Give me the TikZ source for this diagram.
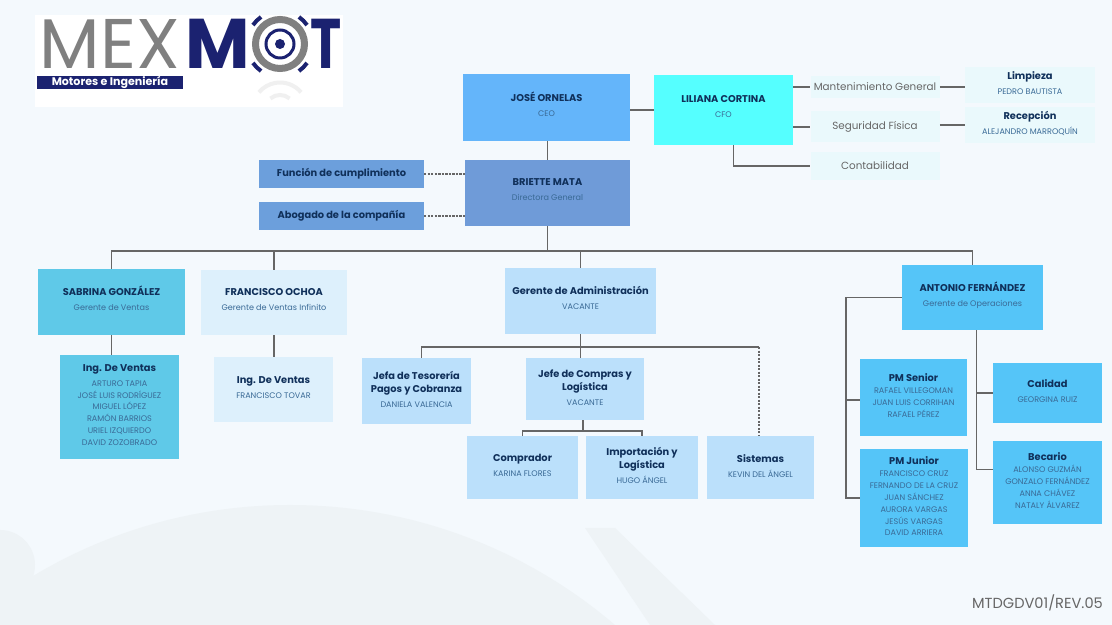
\documentclass[tikz,border=0pt]{standalone}
\usepackage{fontspec}
\setmainfont{Poppins}
\usepackage{tikz}
\definecolor{pagebg}{HTML}{F4F9FD}
\definecolor{markgrey}{HTML}{EEF3F6}
\definecolor{linegrey}{HTML}{666666}
\definecolor{navy}{HTML}{1B2270}
\definecolor{inktitle}{HTML}{10305A}
\definecolor{inksub}{HTML}{3A6A96}
\definecolor{pale}{HTML}{EAF9FC}
\tikzset{
	orgbox/.style={inner sep=0pt, align=center, text=inktitle, font=\fontsize{5.6}{7.4}\selectfont\bfseries},
	softbox/.style={inner sep=0pt, align=center, text=linegrey, font=\fontsize{5.9}{7}\selectfont, fill=pale},
	orgline/.style={draw=linegrey, line width=.6pt},
	dashline/.style={orgline, dash pattern=on 1.2pt off .8pt}
}
\newcommand{\sub}[1]{\\[1pt]{\fontsize{4.6}{6.8}\selectfont\mdseries\color{inksub}\begin{tabular}{@{}c@{}}#1\end{tabular}}}
\newcommand{\pad}{\\[-3.5pt]\mbox{}}
\begin{document}
\begin{tikzpicture}
	\useasboundingbox (0, 0) rectangle (22.24, 12.5);
	\fill[pagebg] (0, 0) rectangle (22.24, 12.5);

	% watermark
	\begin{scope}
		\clip (0, 0) rectangle (22.24, 2.6);
		\fill[markgrey] (5.8, -7.6) circle (10cm);
		\fill[markgrey] (0, 1.2) circle (.7cm);
		\fill[markgrey] (11.7, 1.94) -- (12.3, 1.94) -- (14.3, 0) -- (13, 0) -- cycle;
	\end{scope}

	% logo
	\fill[white] (.7, 10.35) rectangle (6.85, 12.2);
	\node[inner sep=0pt, text=gray, font=\fontsize{40}{40}\selectfont] (mex) at (2.2, 11.62) {MEX};
	\node[inner sep=0pt, text=navy, font=\fontsize{40}{40}\selectfont\bfseries] (logom) at (4.36, 11.62) {M};
	\node[inner sep=0pt, text=navy, font=\fontsize{40}{40}\selectfont\bfseries] (logot) at (6.53, 11.62) {\scalebox{.75}[1]{T}};
	\draw[gray, line width=.14cm] (5.6, 11.62) circle (.49cm);
	\draw[navy, line width=.06cm] (5.6, 11.62) circle (.28cm);
	\fill[navy] (5.6, 11.62) circle (.1cm);
	\foreach \a in {45, 135, 225, 315} {
		\draw[navy, line width=.08cm] (5.6, 11.62) ++(\a-10:.66) arc (\a-10:\a+10:.66);
	}
	\draw[gray!12, line width=.08cm] (5.6, 10.3) ++(40:.55) arc (40:140:.55);
	\draw[gray!12, line width=.08cm] (5.6, 10.3) ++(50:.3) arc (50:130:.3);
	\node[fill=navy, text=white, inner sep=0pt, minimum width=2.92cm, minimum height=.26cm, font=\fontsize{6.3}{6.3}\selectfont\bfseries] (strip) at (2.2, 10.85) {Motores e Ingeniería};

	% direccion
	\node[orgbox, fill={rgb,255:red,100;green,181;blue,250}, minimum width=3.34cm, minimum height=1.34cm] (jose) at (10.93, 10.35) {JOSÉ ORNELAS\sub{CEO}\pad};
	\node[orgbox, fill={rgb,255:red,85;green,255;blue,255}, minimum width=2.78cm, minimum height=1.4cm] (liliana) at (14.47, 10.3) {LILIANA CORTINA\sub{CFO}\pad};
	\node[orgbox, fill={rgb,255:red,111;green,155;blue,216}, minimum width=3.3cm, minimum height=1.32cm] (briete) at (10.95, 8.64) {BRIETTE MATA\sub{Directora General}\pad};
	\node[orgbox, fill={rgb,255:red,108;green,159;blue,220}, minimum width=3.3cm, minimum height=.56cm] (funcion) at (6.83, 9.02) {Función de cumplimiento};
	\node[orgbox, fill={rgb,255:red,108;green,159;blue,220}, minimum width=3.3cm, minimum height=.56cm] (abogado) at (6.83, 8.18) {Abogado de la compañía};

	\node[softbox, minimum width=2.58cm, minimum height=.44cm] (mant) at (17.5, 10.76) {Mantenimiento General};
	\node[softbox, minimum width=2.58cm, minimum height=.62cm] (seg) at (17.5, 9.96) {Seguridad Física};
	\node[softbox, minimum width=2.58cm, minimum height=.56cm] (cont) at (17.5, 9.18) {Contabilidad};
	\node[orgbox, fill=pale, minimum width=2.6cm, minimum height=.72cm] (limp) at (20.6, 10.8) {Limpieza\sub{PEDRO BAUTISTA}};
	\node[orgbox, fill=pale, minimum width=2.6cm, minimum height=.72cm] (recep) at (20.6, 10.0) {Recepción\sub{ALEJANDRO MARROQUÍN}};

	% gerencias
	\node[orgbox, fill={rgb,255:red,95;green,201;blue,232}, minimum width=2.94cm, minimum height=1.32cm] (sabrina) at (2.23, 6.46) {SABRINA GONZÁLEZ\sub{Gerente de Ventas}\pad};
	\node[orgbox, fill={rgb,255:red,221;green,240;blue,252}, minimum width=2.92cm, minimum height=1.3cm] (francisco) at (5.48, 6.45) {FRANCISCO OCHOA\sub{Gerente de Ventas Infinito}\pad};
	\node[orgbox, fill={rgb,255:red,187;green,224;blue,251}, minimum width=3.02cm, minimum height=1.32cm] (admin) at (11.61, 6.48) {Gerente de Administración\sub{VACANTE}\pad};
	\node[orgbox, fill={rgb,255:red,85;green,197;blue,248}, minimum width=2.82cm, minimum height=1.3cm] (antonio) at (19.45, 6.55) {ANTONIO FERNÁNDEZ\sub{Gerente de Operaciones}\pad};

	\node[orgbox, fill={rgb,255:red,95;green,201;blue,232}, minimum width=2.38cm, minimum height=2.08cm] (ventasa) at (2.39, 4.36) {Ing. De Ventas\sub{ARTURO TAPIA\\JOSÉ LUIS RODRÍGUEZ\\MIGUEL LÓPEZ\\RAMÓN BARRIOS\\URIEL IZQUIERDO\\DAVID ZOZOBRADO}};
	\node[orgbox, fill={rgb,255:red,221;green,240;blue,252}, minimum width=2.38cm, minimum height=1.3cm] (ventasb) at (5.47, 4.71) {Ing. De Ventas\sub{FRANCISCO TOVAR}};

	\node[orgbox, fill={rgb,255:red,187;green,224;blue,251}, minimum width=2.18cm, minimum height=1.32cm] (tesoreria) at (8.33, 4.68) {Jefa de Tesorería\\Pagos y Cobranza\sub{DANIELA VALENCIA}};
	\node[orgbox, fill={rgb,255:red,187;green,224;blue,251}, minimum width=2.36cm, minimum height=1.24cm] (compras) at (11.7, 4.72) {Jefe de Compras y\\Logística\sub{VACANTE}};
	\node[orgbox, fill={rgb,255:red,187;green,224;blue,251}, minimum width=2.22cm, minimum height=1.26cm] (comprador) at (10.45, 3.15) {Comprador\sub{KARINA FLORES}};
	\node[orgbox, fill={rgb,255:red,187;green,224;blue,251}, minimum width=2.24cm, minimum height=1.26cm] (import) at (12.84, 3.15) {Importación y\\Logística\sub{HUGO ÁNGEL}};
	\node[orgbox, fill={rgb,255:red,187;green,224;blue,251}, minimum width=2.14cm, minimum height=1.26cm] (sistemas) at (15.21, 3.15) {Sistemas\sub{KEVIN DEL ÁNGEL}};

	\node[orgbox, fill={rgb,255:red,85;green,197;blue,248}, minimum width=2.14cm, minimum height=1.54cm] (senior) at (18.27, 4.55) {PM Senior\sub{RAFAEL VILLEGOMAN\\JUAN LUIS CORRIHAN\\RAFAEL PÉREZ}};
	\node[orgbox, fill={rgb,255:red,85;green,197;blue,248}, minimum width=2.16cm, minimum height=1.96cm] (junior) at (18.28, 2.54) {PM Junior\sub{FRANCISCO CRUZ\\FERNANDO DE LA CRUZ\\JUAN SÁNCHEZ\\AURORA VARGAS\\JESÚS VARGAS\\DAVID ARRIERA}};
	\node[orgbox, fill={rgb,255:red,85;green,197;blue,248}, minimum width=2.18cm, minimum height=1.2cm] (calidad) at (20.95, 4.64) {Calidad\sub{GEORGINA RUIZ}};
	\node[orgbox, fill={rgb,255:red,85;green,197;blue,248}, minimum width=2.18cm, minimum height=1.66cm] (becario) at (20.95, 2.85) {Becario\sub{ALONSO GUZMÁN\\GONZALO FERNÁNDEZ\\ANNA CHÁVEZ\\NATALY ÁLVAREZ}};

	\node[text=linegrey, inner sep=0pt, font=\fontsize{8.3}{9}\selectfont] (rev) at (20.75, .44) {MTDGDV01/REV.05};

	% lineas de direccion
	\draw[orgline] (jose.south -| briete.north) to (briete.north);
	\draw[orgline] (jose.east |- liliana.west) to (liliana.west);
	\draw[dashline] (funcion.east) to (funcion.east -| briete.west);
	\draw[dashline] (abogado.east) to (abogado.east -| briete.west);
	\draw[orgline] (liliana.east |- mant.west) to (mant.west);
	\draw[orgline] (liliana.east |- seg.west) to (seg.west);
	\draw[orgline] ([xshift=.2cm]liliana.south) |- (cont.west);
	\draw[orgline] (mant.east) to (mant.east -| limp.west);
	\draw[orgline] (seg.east |- recep.west) to (recep.west);

	% bus principal
	\coordinate (bus) at (10.95, 7.48);
	\draw[orgline] (briete.south) to (bus);
	\draw[orgline] (bus) -| (sabrina.north);
	\draw[orgline] (bus) -| (francisco.north);
	\draw[orgline] (bus) -| (admin.north);
	\draw[orgline] (bus) -| (antonio.north);
	\draw[orgline] (sabrina.south) to (sabrina.south |- ventasa.north);
	\draw[orgline] (francisco.south) to (francisco.south |- ventasb.north);

	% administracion
	\coordinate (admbus) at (11.61, 5.56);
	\coordinate (sisbus) at (15.18, 5.56);
	\draw[orgline] (admin.south) to (admbus);
	\draw[orgline] (admbus) -| ([xshift=.1cm]tesoreria.north);
	\draw[orgline] (admbus) to (admbus |- compras.north);
	\draw[orgline] (admbus) to (sisbus);
	\draw[dashline] (sisbus) to (sisbus |- sistemas.north);
	\coordinate (combus) at (11.66, 3.88);
	\draw[orgline] (compras.south -| combus) to (combus);
	\draw[orgline] (combus) -| (comprador.north);
	\draw[orgline] (combus) -| (import.north);

	% operaciones
	\coordinate (oplf) at (16.92, 6.55);
	\coordinate (opsr) at (16.92, 4.5);
	\draw[orgline] (antonio.west) to (oplf);
	\draw[orgline] (oplf) |- (junior.west);
	\draw[orgline] (opsr) to (opsr -| senior.west);
	\coordinate (oprt) at (19.53, 6);
	\draw[orgline] (antonio.south -| oprt) |- ([yshift=.26cm]becario.west);
	\draw[orgline] (oprt |- calidad.west) to (calidad.west);
\end{tikzpicture}
\end{document}
